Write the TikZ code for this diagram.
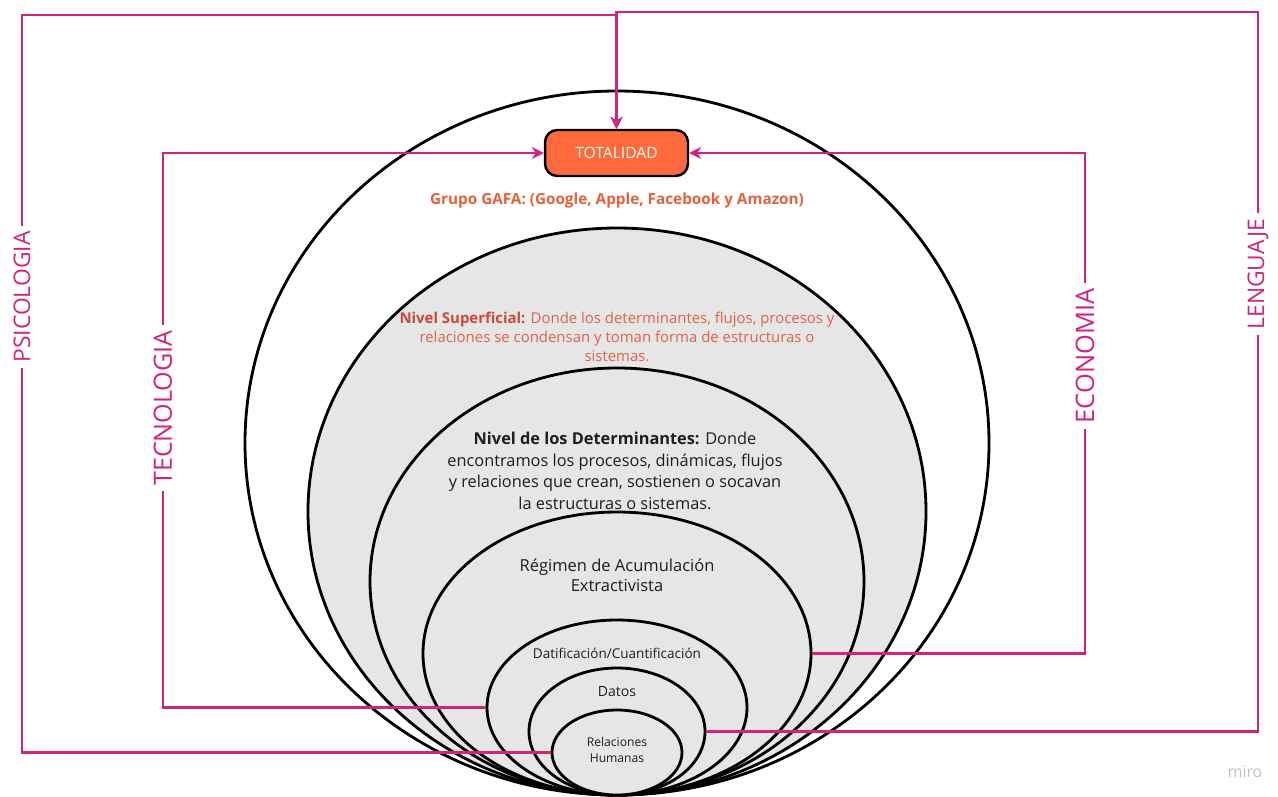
\documentclass[tikz,border=0pt]{standalone}
\usepackage{fontspec}
\setmainfont{Open Sans}
\usepackage{xcolor}
\usepackage{tikz}
\usetikzlibrary{arrows.meta,shapes.geometric}
\definecolor{rosa}{RGB}{210,35,125}
\definecolor{naranja}{RGB}{255,106,61}
\definecolor{gafa}{RGB}{226,98,62}
\definecolor{supbold}{RGB}{206,72,58}
\definecolor{suptext}{RGB}{222,100,72}
\definecolor{fondo}{RGB}{230,230,230}
\definecolor{tinta}{RGB}{30,30,30}

\begin{document}
\begin{tikzpicture}[x=0.02cm,y=-0.02cm,>={Stealth[length=2.4mm,width=2.4mm]},
    ring/.style={ellipse,draw=black,line width=1.6pt,inner sep=0pt},
    link/.style={draw=rosa,line width=1.6pt},
    area/.style={rotate=90,fill=white,text=rosa,font=\fontsize{13}{13}\selectfont,inner sep=3pt}]
    \useasboundingbox (0,0) rectangle (1278,796);
    % nested levels, all touching at the bottom
    \foreach \n/\cy/\rx/\ry/\col in {outer/443/372/352/white,sup/511.5/309/283.5/fondo,
        det/581.5/247/213.5/fondo,reg/653.5/194/141.5/fondo,dat/707.5/130/87.5/fondo,
        datos/731.5/88/63.5/fondo,rh/752.5/65/42.5/fondo}
      \node[ring,fill=\col,minimum width=2*\rx*0.02cm,minimum height=2*\ry*0.02cm] (\n) at (617,\cy) {};
    \node[draw=black,line width=1.4pt,fill=naranja,rounded corners=7pt,minimum width=2.86cm,
      minimum height=0.92cm,text=white,font=\fontsize{8.9}{10}\selectfont] (tot) at (616.5,153) {TOTALIDAD};
    \node[font=\fontsize{8.7}{9}\selectfont\bfseries,text=gafa] (gafatxt) at (617,201)
      {Grupo GAFA: (Google, Apple, Facebook y Amazon)};
    \node[align=center,font=\fontsize{8.5}{10.8}\selectfont,text=suptext] (suptxt) at (617,337)
      {\textcolor{supbold}{\textbf{Nivel Superficial:}} Donde los determinantes, flujos, procesos y\\
       relaciones se condensan y toman forma de estructuras o\\ sistemas.};
    \node[align=center,font=\fontsize{9.3}{12.2}\selectfont,text=tinta] (dettxt) at (615,471)
      {\textbf{Nivel de los Determinantes:} Donde\\ encontramos los procesos, dinámicas, flujos\\
       y relaciones que crean, sostienen o socavan\\ la estructuras o sistemas.};
    \node[align=center,font=\fontsize{9.4}{11.3}\selectfont,text=tinta] (regtxt) at (617,575)
      {Régimen de Acumulación\\ Extractivista};
    \node[font=\fontsize{7.7}{8}\selectfont,text=tinta] (dattxt) at (617,653) {Datificación/Cuantificación};
    \node[font=\fontsize{8}{8}\selectfont,text=tinta] (datostxt) at (617,692) {Datos};
    \node[align=center,font=\fontsize{6.9}{8.9}\selectfont,text=tinta] (rhtxt) at (617,750) {Relaciones\\ Humanas};
    \coordinate (psiC) at (22,15);
    \coordinate (lenC) at (1258,12);
    \coordinate (tecC) at (163,153);
    \coordinate (ecoC) at (1085,153);
    \draw[link,->] (rh.west) -| (psiC) -| (tot.north);
    \draw[link,->] (datos.east) -| (lenC) -| (tot.north);
    \draw[link,->] (dat.west) -| (tecC) -- (tot.west);
    \draw[link,->] (reg.east) -| (ecoC) -- (tot.east);
    \node[area] (psi) at (22,297) {PSICOLOGIA};
    \node[area] (len) at (1258,274) {LENGUAJE};
    \node[area,font=\fontsize{14.3}{14}\selectfont] (tec) at (163,408) {TECNOLOGIA};
    \node[area,font=\fontsize{14.5}{14}\selectfont] (eco) at (1085,356) {ECONOMIA};
    \node[text=black!25,font=\fontsize{9}{9}\selectfont] (miro) at (1245,772) {miro};
\end{tikzpicture}
\end{document}
